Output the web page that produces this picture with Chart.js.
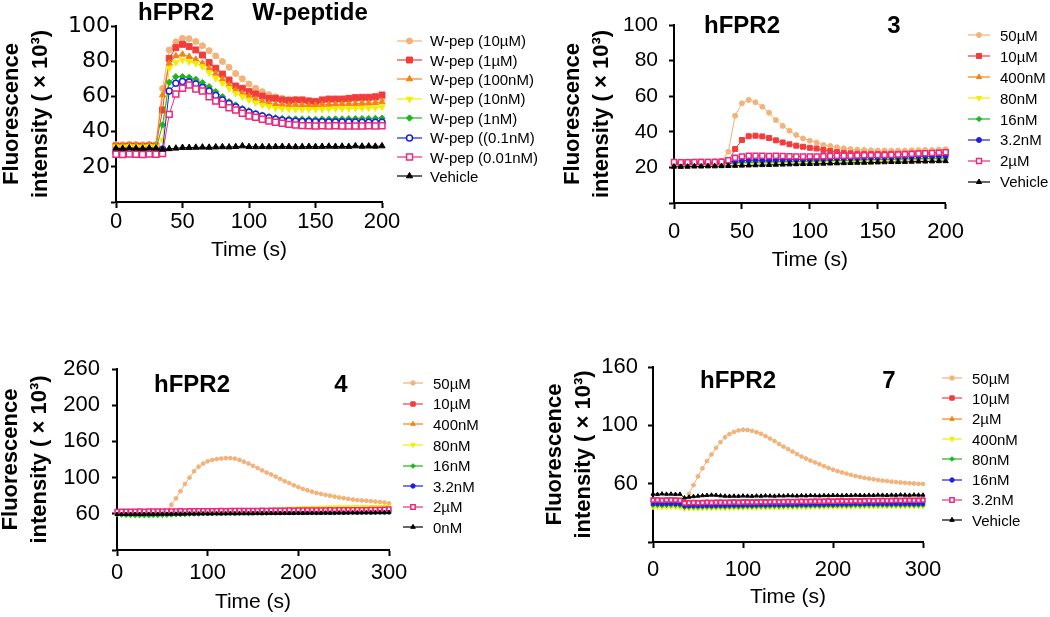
<!DOCTYPE html>
<html lang="en">
<head>
  <meta charset="UTF-8" />
  <title>hFPR2 calcium flux</title>
  <script src="https://cdn.jsdelivr.net/npm/chart.js"></script>
  <style>
    body {
      margin: 0;
      background: #fff;
      overflow: hidden;
      font-family: "Liberation Sans", Arial, sans-serif;
      color: #000;
    }
    #fig {
      position: relative;
      width: 1050px;
      height: 617px;
    }
    #fig canvas.panel {
      position: absolute;
    }
    .ttl {
      position: absolute;
      transform: translate(-50%, -50%);
      font-size: 24px;
      font-weight: bold;
      line-height: 1;
      white-space: nowrap;
    }
    .legend {
      position: absolute;
      font-size: 15px;
      white-space: nowrap;
    }
    .legend .row {
      display: flex;
      align-items: center;
    }
  </style>
</head>
<body>
<div id="fig">
  <canvas id="c1" class="panel" width="410" height="268" style="left:-2px;top:0px"></canvas>
  <canvas id="c2" class="panel" width="415" height="275" style="left:559px;top:0px"></canvas>
  <canvas id="c3" class="panel" width="415" height="275" style="left:-3px;top:340px"></canvas>
  <canvas id="c4" class="panel" width="415" height="275" style="left:541px;top:340px"></canvas>

  <div class="ttl" style="left:176px;top:12px">hFPR2</div>
  <div class="ttl" style="left:310px;top:12px">W-peptide</div>
  <div class="ttl" style="left:742px;top:25px">hFPR2</div>
  <div class="ttl" style="left:894px;top:25px">3</div>
  <div class="ttl" style="left:192px;top:384px">hFPR2</div>
  <div class="ttl" style="left:341px;top:384px">4</div>
  <div class="ttl" style="left:738px;top:380px">hFPR2</div>
  <div class="ttl" style="left:889px;top:380px">7</div>

  <div class="legend" id="lg1" style="left:397px;top:31px"></div>
  <div class="legend" id="lg2" style="left:968px;top:25px"></div>
  <div class="legend" id="lg3" style="left:403px;top:373px"></div>
  <div class="legend" id="lg4" style="left:942px;top:368px"></div>
</div>

<script>
// ---- data ----
// time points (s)
const timeA = [0,5,10,15,20,25,30,35,40,45,50,55,60,65,70,75,80,85,90,95,100,
  105,110,115,120,125,130,135,140,145,150,155,160,165,170,175,180,185,190,195,200];
const timeB = [0,5,10,15,20,25,30,35,40,45,50,55,60,65,70,75,80,85,90,95,100,
  105,110,115,120,125,130,135,140,145,150,155,160,165,170,175,180,185,190,195,200,
  205,210,215,220,225,230,235,240,245,250,255,260,265,270,275,280,285,290,295,300];

// panel 1: W-peptide
const labelsW = ['W-pep (10µM)','W-pep (1µM)','W-pep (100nM)','W-pep (10nM)',
  'W-pep (1nM)','W-pep ((0.1nM)','W-pep (0.01nM)','Vehicle'];
const wpep10uM = [32.6,32.5,32.7,32.6,32.5,32.7,32.6,
  64.5,86.4,91,93,92.8,91.2,88.8,86,83,79.8,76.5,73,70,67,64.7,62.7,61,59.8,59,58.4,
  58.1,57.8,57.5,57.3,57.4,57.6,57.8,57.9,58,58.2,58.4,58.5,58.7,59];
const wpep1uM = [31.8,31.7,31.9,31.8,31.7,31.9,31.8,
  52.3,81.6,87.7,89.6,88.3,86.4,83.5,79.2,76,72.7,69.3,65.9,64.6,62.7,61.4,60.2,58.9,58.9,58,57.6,
  58,58,57.4,57,58,58.5,58.5,58.5,58.9,59.3,59.5,59.5,59.8,60.8];
const wpep100nM = [32.2,32.1,32.3,32.2,32.1,32.3,32.2,
  60.8,78.8,83,83.9,82.6,81,78.8,76,73.1,69.7,66.5,63.6,61.7,60.2,58.3,57,56.1,55.5,55.2,55,
  55.1,55,54.9,55,55.2,55.3,55.5,55.6,55.7,55.8,56,56.1,56.3,56.8];
const wpep10nM = [31.4,31.3,31.5,31.4,31.3,31.5,31.4,
  35.2,76,79.2,80.7,79.7,78.8,76.9,73.5,70.3,67.4,64.6,61.7,59.8,58,56.4,55.1,54.2,53.2,53,52.8,
  52.7,52.6,52.7,52.6,52.8,52.9,53,53,53.1,53.2,53.3,53.4,53.5,54];
const wpep1nM = [29.8,29.7,29.9,29.8,29.7,29.9,29.8,
  43.8,68,71.2,71.2,70.8,69.7,67.8,65.5,62.7,59.8,57,55.1,53.2,51.9,50.4,49.4,48.5,47.9,47.5,47.3,
  47.2,47.1,47.1,47,47.1,47.1,47.2,47.2,47.3,47.3,47.4,47.4,47.5,47.6];
const wpep01nM = [28.3,28.2,28.4,28.3,28.2,28.4,28.3,
  30,63,67.5,68.5,68.2,67,65,63,60.5,58,56,54,52.3,51,49.8,48.8,47.8,47,46.5,46.2,
  45.9,45.8,45.7,45.6,45.6,45.5,45.5,45.4,45.4,45.4,45.3,45.3,45.3,45.3];
const wpep001nM = [27.1,27,27.2,27.1,27,27.2,27.1,
  27.6,49.8,61.4,64.6,66.5,64.2,63.1,59.8,57.4,55.5,53.6,52.3,50.4,48.9,48.1,47,46,45.3,44.7,44.1,
  43.8,43.4,43.3,43.2,43.3,43.2,43.3,43.2,43.1,43.2,43.2,43.3,43.2,43.3];
const vehicleW = [30.5,30.4,30.6,30.5,30.4,30.6,30.5,
  29.9,30.2,30.5,30.9,30.9,31,31.1,31,31.2,31.3,31.2,31.4,31.8,31.4,31.3,31.4,31.3,31.4,31.5,31.4,
  31.3,31.4,31.5,31.4,31.5,31.6,31.5,31.6,31.5,31.8,31.6,31.7,31.6,31.8];

// panel 2: compound 3
const labels3 = ['50µM','10µM','400nM','80nM','16nM','3.2nM','2µM','Vehicle'];
const c3_50uM = [23.2,23,23.2,23.3,23.2,23.4,23.3,23.5,
  28.8,49,56,57.9,56.6,54.1,50.7,46.6,43.3,40.6,38.2,36.3,35,33.9,32.6,32,31.3,30.7,30.3,30,
  29.8,29.6,29.5,29.5,29.4,29.5,29.5,29.6,29.7,29.8,29.8,30,30.2];
const c3_10uM = [23,23,23.1,23,23.2,23.1,23.2,23.3,23.5,
  30.3,35.4,37.5,37.8,37.4,36.5,35.2,34,33,32.2,31.6,31,30.6,29.8,29.2,28.6,28.2,27.9,27.7,27.6,
  27.5,27.5,27.5,27.6,27.6,27.7,27.8,27.9,28,28.1,28.2,28.3];
const c3_400nM = [21.6,21.5,21.6,21.6,21.7,21.7,21.8,21.8,
  22.1,22.4,22.6,22.8,22.8,22.9,23,23,23.1,23.2,23.3,23.3,23.4,23.5,23.6,23.7,23.8,23.8,23.9,24,
  24.1,24.2,24.2,24.3,24.4,24.5,24.6,24.6,24.7,24.8,24.9,25,25.1];
const c3_80nM = [21.3,21.2,21.3,21.3,21.4,21.4,21.5,21.5,
  21.8,22,22.1,22.2,22.3,22.3,22.4,22.5,22.6,22.7,22.8,22.9,23,23.1,23.2,23.3,23.4,23.5,23.6,23.7,
  23.8,23.9,24,24.1,24.2,24.3,24.4,24.5,24.6,24.7,24.8,24.9,25];
const c3_16nM = [21.8,21.7,21.8,21.8,21.9,21.9,22,22,
  22.3,22.6,22.8,23,23,23.1,23.2,23.2,23.3,23.4,23.5,23.5,23.6,23.7,23.8,23.9,24,24,24.1,24.2,
  24.3,24.4,24.4,24.5,24.6,24.7,24.8,24.8,24.9,25,25.1,25.2,25.3];
const c3_3_2nM = [22.2,22,22.1,22.1,22.2,22.2,22.3,22.4,
  23,23.4,23.8,24,24.1,24,24.1,24.2,24.3,24.3,24.4,24.5,24.6,24.7,24.8,24.9,25,25.1,25.2,25.3,
  25.4,25.5,25.5,25.6,25.7,25.8,25.9,26,26.1,26.2,26.3,26.4,26.5];
const c3_2uM = [23,22.9,22.9,23,23,23.1,23,23.2,
  24,25.4,26.2,26.6,26.6,26.5,26.4,26.5,26.4,26.3,26.2,26.1,26.2,26.2,26.3,26.4,
  26.5,26.6,26.6,26.7,26.8,26.9,27,27,27.1,27.3,27.4,27.6,27.8,27.9,28.1,28.3,28.5];
const c3_vehicle = [20.4,20.3,20.4,20.5,20.5,20.6,20.6,20.7,
  20.8,20.9,21,21.1,21.2,21.3,21.4,21.5,21.6,21.7,21.8,21.9,21.9,22,22.1,22.2,22.3,22.4,22.5,22.6,
  22.6,22.7,22.8,22.9,23,23,23.1,23.2,23.3,23.3,23.4,23.5,23.5];

// panel 3: compound 4 (axis labels as printed on the figure)
const labels4 = ['50µM','10µM','400nM','80nM','16nM','3.2nM','2µM','0nM'];
const yTickValues4 = [20,60,100,140,180,220];
const yTickLabels4 = ['','60','100','160','200','260'];
const c4_50uM = [60.8,61,61.2,61,61.3,61.2,61.4,61.3,61.5,61.5,61.6,
  63,70,77,85,93,100,107,112,115.5,118,119.5,120.5,121,121.5,121.5,121,119.5,117.5,115.5,113,
  110.5,108,105.5,103.5,101,98.5,96,94,91.5,89.5,87.5,86,84.5,83,82,81,80,79,78,77.3,
  76.5,75.8,75.2,74.8,74.5,74,73.5,73,72.5,71.5];
const c4_10uM = [62.2,62.3,62.2,62.4,62.3,62.4,62.5,62.4,62.5,62.6,
  62.5,62.7,62.6,62.7,62.8,62.7,62.9,62.8,63,62.9,
  63,63.1,63,63.2,63.1,63.2,63.3,63.2,63.4,63.3,
  63.4,63.5,63.4,63.6,63.5,63.6,63.7,63.6,63.8,63.7,
  63.8,63.9,63.8,64,63.9,64,64.1,64,64.2,64.1,
  64.2,64.3,64.2,64.4,64.3,64.4,64.5,64.4,64.6,64.5,64.6];
const c4_400nM = [61.8,61.9,61.8,61.9,62,61.9,62,62.1,62,62.1,
  62.2,62.1,62.2,62.3,62.2,62.4,62.3,62.4,62.5,62.4,
  62.6,62.5,62.6,62.7,62.6,62.8,62.7,62.8,62.9,62.8,
  63,62.9,63,63.1,63,63.2,63.1,63.2,63.3,63.2,
  63.4,63.3,63.4,63.5,63.4,63.6,63.5,63.6,63.7,63.6,
  63.8,63.7,63.8,63.9,63.8,64,63.9,64,64.1,64,64.2];
const c4_80nM = [61,61.1,61,61.2,61.1,61.2,61.3,61.2,61.4,61.3,
  61.4,61.5,61.5,61.6,61.7,61.7,61.8,61.9,62,62.1,
  62.2,62.3,62.4,62.5,62.6,62.8,62.9,63.1,63.3,63.5,
  63.7,64,64.2,64.5,64.8,65,65.3,65.6,65.9,66.2,
  66.4,66.6,66.8,67,67.1,67.2,67.3,67.4,67.5,67.6,
  67.6,67.7,67.7,67.8,67.8,67.9,67.9,68,68,68.1,68.1];
const c4_16nM = [58.6,58.3,58.1,57.9,57.8,57.7,57.8,57.7,57.8,57.9,
  58,58.2,58.4,58.6,58.8,59,59.2,59.4,59.5,59.7,
  59.8,59.9,60,60.1,60.1,60.2,60.2,60.3,60.3,60.4,
  60.4,60.5,60.5,60.5,60.6,60.6,60.6,60.7,60.7,60.7,
  60.8,60.8,60.8,60.9,60.9,60.9,61,61,61,61,
  61.1,61.1,61.1,61.1,61.2,61.2,61.2,61.2,61.3,61.3,61.3];
const c4_3_2nM = [60.4,60.5,60.4,60.5,60.6,60.5,60.6,60.6,60.7,60.6,
  60.7,60.7,60.8,60.7,60.8,60.8,60.9,60.8,60.9,60.9,
  61,60.9,61,61,61.1,61,61.1,61.1,61.2,61.1,
  61.2,61.2,61.3,61.2,61.3,61.3,61.4,61.3,61.4,61.4,
  61.5,61.4,61.5,61.5,61.6,61.5,61.6,61.6,61.7,61.6,
  61.7,61.7,61.8,61.7,61.8,61.8,61.9,61.8,61.9,61.9,62];
const c4_2uM = [62.8,62.9,63,62.9,63,63.1,63,63.1,63.2,63.1,
  63.2,63.3,63.2,63.3,63.4,63.3,63.4,63.5,63.4,63.5,
  63.6,63.5,63.6,63.7,63.6,63.7,63.8,63.7,63.8,63.9,
  63.8,63.9,64,63.9,64,64.1,64,64.1,64.2,64.1,
  64.2,64.3,64.2,64.3,64.4,64.3,64.4,64.5,64.4,64.5,
  64.6,64.5,64.6,64.7,64.6,64.7,64.8,64.9,65,65.1,65.3];
const c4_0nM = [59.3,59.4,59.3,59.4,59.5,59.4,59.5,59.6,59.5,59.6,
  59.7,59.6,59.7,59.8,59.7,59.8,59.9,59.8,59.9,60,
  59.9,60,60.1,60,60.1,60.2,60.1,60.2,60.3,60.2,
  60.3,60.4,60.3,60.4,60.5,60.4,60.5,60.6,60.5,60.6,
  60.7,60.6,60.7,60.8,60.7,60.8,60.9,60.8,60.9,61,
  60.9,61,61.1,61,61.1,61.2,61.1,61.2,61.3,61.2,61.4];

// panel 4: compound 7 (axis labels as printed on the figure)
const labels7 = ['50µM','10µM','2µM','400nM','80nM','16nM','3.2nM','Vehicle'];
const yTickValues7 = [20,60,100,140];
const yTickLabels7 = ['','60','100','160'];
const c7_50uM = [48.6,48.5,48.7,48.6,48.5,48.7,48.6,
  49,53,59,65,70.5,75.5,80,84.5,88.5,91.8,94,95.5,96.5,97,96.8,96.2,95.3,94.2,92.6,90.9,
  89.2,87.2,85.4,83.7,82,80.3,78.6,77.2,75.8,74.6,73.3,72,70.8,69.6,68.6,67.7,66.9,66,65.2,64.6,
  64,63.5,63,62.5,62.1,61.8,61.4,61.1,60.8,60.5,60.3,60.1,59.9,59.8];
const c7_10uM = [49,49.1,48.9,49,49.1,49,48.9,47.2,
  47.3,47.4,47.3,47.4,47.5,47.4,47.5,47.6,47.5,47.6,
  47.7,47.6,47.7,47.8,47.7,47.8,47.9,47.8,47.9,48,
  47.9,48,48.1,48,48.1,48.2,48.1,48.2,48.3,48.2,
  48.3,48.4,48.3,48.4,48.5,48.4,48.5,48.6,48.5,48.6,
  48.7,48.6,48.7,48.8,48.7,48.8,48.9,48.8,48.9,48.9,
  48.8,48.9,48.9];
const c7_2uM = [48.1,48.2,48,48.1,48.2,48.1,48,46.4,
  46.5,46.6,46.5,46.6,46.7,46.6,46.7,46.8,46.7,46.8,
  46.9,46.8,46.9,47,46.9,47,47.1,47,47.1,47.2,
  47.1,47.2,47.3,47.2,47.3,47.4,47.3,47.4,47.5,47.4,
  47.5,47.6,47.5,47.6,47.7,47.6,47.7,47.8,47.7,47.8,
  47.9,47.8,47.9,48,47.9,48,48.1,48,48.1,48.1,
  48,48.1,48.1];
const c7_400nM = [43.6,43.7,43.5,43.6,43.7,43.6,43.5,42.6,
  42.7,42.8,42.7,42.8,42.9,42.8,42.9,43,42.9,43,
  43.1,43,43.1,43.2,43.1,43.2,43.3,43.2,43.3,43.4,
  43.3,43.4,43.5,43.4,43.5,43.6,43.5,43.6,43.7,43.6,
  43.7,43.8,43.7,43.8,43.9,43.8,43.9,44,43.9,44,
  44.1,44,44.1,44.2,44.1,44.2,44.2,44.1,44.2,44.2,
  44.1,44.2,44.2];
const c7_80nM = [45,45.1,44.9,45,45.1,45,44.9,43.6,
  43.7,43.8,43.7,43.8,43.9,43.8,43.9,44,43.9,44,
  44.1,44,44.1,44.2,44.1,44.2,44.3,44.2,44.3,44.4,
  44.3,44.4,44.5,44.4,44.5,44.6,44.5,44.6,44.7,44.6,
  44.7,44.8,44.7,44.8,44.9,44.8,44.9,45,44.9,45,
  45.1,45,45.1,45.1,45,45.1,45.1,45,45.1,45.1,
  45,45.1,45.1];
const c7_16nM = [46.1,46.2,46,46.1,46.2,46.1,46,44.7,
  44.8,44.9,44.8,44.9,45,44.9,45,45.1,45,45.1,
  45.2,45.1,45.2,45.3,45.2,45.3,45.4,45.3,45.4,45.5,
  45.4,45.5,45.6,45.5,45.6,45.7,45.6,45.7,45.8,45.7,
  45.8,45.9,45.8,45.9,46,45.9,46,46.1,46,46.1,
  46.2,46.1,46.2,46.2,46.1,46.2,46.2,46.1,46.2,46.2,
  46.1,46.2,46.2];
const c7_3_2nM = [48.7,48.8,48.6,48.7,48.8,48.7,48.6,46.7,
  46.9,47,46.9,47,47.1,47,47.1,47.2,47.1,47.2,
  47.3,47.2,47.3,47.4,47.3,47.4,47.5,47.4,47.5,47.6,
  47.5,47.6,47.7,47.6,47.7,47.8,47.7,47.8,47.9,47.8,
  47.9,48,47.9,48,48.1,48,48.1,48.2,48.1,48.2,
  48.3,48.2,48.3,48.4,48.3,48.4,48.5,48.4,48.5,48.6,
  48.5,48.6,48.7];
const c7_vehicle = [52.9,52.7,53,52.8,52.9,52.7,52.8,50.3,
  50.8,51.2,51.5,51.8,52,52.2,52.1,51.7,51.5,51.4,
  51.5,51.4,51.6,51.5,51.4,51.6,51.5,51.7,51.6,51.5,
  51.7,51.6,51.8,51.7,51.6,51.8,51.7,51.9,51.8,51.7,
  51.9,51.8,52,51.9,51.8,52,51.9,52.1,52,51.9,
  52.1,52,52.2,52.1,52,52.2,52.1,52.3,52.2,52.1,
  52.3,52.2,52.2];

// ---- styles ----
const colors = ['#F2B27A','#F23C3C','#F5840F','#F2EE00','#18B818','#1E1EE6','#EC2A7C','#000000'];
const pointStyles = ['circle','rect','triangle','triangle','rectRot','circle','rect','triangle'];
const pointRotations = [0,0,0,180,0,0,0,0];
const styleScale = {circle: 1, rect: 1.4, triangle: 1.2, rectRot: 1.05};

Chart.defaults.font.family = '"Liberation Sans", Arial, sans-serif';
Chart.defaults.color = '#000';

function markerRadius(i, r) {
  return r * styleScale[pointStyles[i]];
}

function drawIcon(ctx, w, h, i, open, r) {
  ctx.strokeStyle = colors[i];
  ctx.lineWidth = 1.2;
  ctx.beginPath();
  ctx.moveTo(0, h / 2);
  ctx.lineTo(w, h / 2);
  ctx.stroke();
  ctx.fillStyle = open[i] ? '#fff' : colors[i];
  ctx.lineWidth = open[i] ? 1.5 : 1;
  const opts = { pointStyle: pointStyles[i], rotation: pointRotations[i], radius: markerRadius(i, r), borderWidth: 1 };
  if (Chart.helpers && Chart.helpers.drawPoint) {
    Chart.helpers.drawPoint(ctx, opts, w / 2, h / 2);
  } else {
    ctx.beginPath();
    ctx.arc(w / 2, h / 2, r, 0, Math.PI * 2);
    ctx.fill();
    ctx.stroke();
  }
}

function addLegend(id, labels, open, o) {
  const box = document.getElementById(id);
  labels.forEach((text, i) => {
    const row = document.createElement('div');
    row.className = 'row';
    row.style.height = o.rowH + 'px';
    const cv = document.createElement('canvas');
    cv.width = o.lineW;
    cv.height = 14;
    cv.style.marginRight = o.gap + 'px';
    drawIcon(cv.getContext('2d'), o.lineW, 14, i, open, o.r);
    const span = document.createElement('span');
    span.textContent = text;
    row.append(cv, span);
    box.appendChild(row);
  });
}

function makePanel(p) {
  const datasets = p.series.map((vals, i) => ({
    label: p.labels[i],
    data: vals.map((v, k) => ({ x: p.time[k], y: v })),
    borderColor: colors[i],
    borderWidth: 1,
    pointStyle: pointStyles[i],
    pointRotation: pointRotations[i],
    pointRadius: markerRadius(i, p.r),
    pointBackgroundColor: p.open[i] ? '#fff' : colors[i],
    pointBorderColor: colors[i],
    pointBorderWidth: p.open[i] ? 1.5 : 1,
    tension: 0,
    fill: false,
    clip: false,
    order: p.series.length - i
  }));

  return new Chart(document.getElementById(p.id), {
    type: 'line',
    data: { datasets },
    options: {
      responsive: false,
      animation: false,
      events: [],
      layout: { padding: { top: p.padTop, right: p.padRight, left: 0, bottom: 0 } },
      plugins: { legend: { display: false }, tooltip: { enabled: false } },
      scales: {
        x: {
          type: 'linear',
          min: p.xMin, max: p.xMax,
          afterFit: s => { s.height = p.xH; },
          ticks: { stepSize: p.xStep, padding: p.xPad, font: { size: 22 }, color: '#000', maxRotation: 0, autoSkip: false },
          grid: { drawOnChartArea: false, tickLength: 6, tickWidth: 2, tickColor: '#000' },
          border: { color: '#000', width: 2 },
          title: { display: true, text: 'Time (s)', font: { size: 21 }, color: '#000', padding: { top: 0, bottom: p.xTitlePad } }
        },
        y: {
          type: 'linear',
          min: p.yMin, max: p.yMax,
          afterFit: s => { s.width = p.yW; },
          ticks: {
            stepSize: p.yStep, padding: p.yPad, font: p.yFont, color: '#000', autoSkip: false,
            callback: v => {
              const k = p.yTickValues.indexOf(v);
              return k >= 0 ? p.yTickLabels[k] : '';
            }
          },
          grid: { drawOnChartArea: false, tickLength: 5, tickWidth: 2, tickColor: '#000' },
          border: { color: '#000', width: 2 },
          title: {
            display: true,
            text: ['Fluorescence', 'intensity ( × 10³)'],
            font: { size: 22, weight: 'bold', lineHeight: 1.3 },
            color: '#000',
            padding: { top: 0, bottom: 0 }
          }
        }
      }
    }
  });
}

const openW = [false,false,false,false,false,true,true,false];
const openC = [false,false,false,false,false,false,true,false];

makePanel({
  id: 'c1', time: timeA, labels: labelsW, open: openW, r: 3,
  series: [wpep10uM, wpep1uM, wpep100nM, wpep10nM, wpep1nM, wpep01nM, wpep001nM, vehicleW],
  padTop: 26, padRight: 26, xH: 66, yW: 118,
  xMin: 0, xMax: 200, xStep: 50, xPad: 1, xTitlePad: 5,
  yMin: 0, yMax: 100, yStep: 20, yPad: 1,
  yFont: { size: 22, family: '"DejaVu Sans", sans-serif' },
  yTickValues: [0,20,40,60,80,100], yTickLabels: ['','20','40','60','80','100']
});

makePanel({
  id: 'c2', time: timeA, labels: labels3, open: openC, r: 2.5,
  series: [c3_50uM, c3_10uM, c3_400nM, c3_80nM, c3_16nM, c3_3_2nM, c3_2uM, c3_vehicle],
  padTop: 25, padRight: 24, xH: 72, yW: 115,
  xMin: 0, xMax: 200, xStep: 50, xPad: 10, xTitlePad: 2,
  yMin: 0, yMax: 100, yStep: 20, yPad: 11,
  yFont: { size: 21 },
  yTickValues: [0,20,40,60,80,100], yTickLabels: ['','20','40','60','80','100']
});

makePanel({
  id: 'c3', time: timeB, labels: labels4, open: openC, r: 1.9,
  series: [c4_50uM, c4_10uM, c4_400nM, c4_80nM, c4_16nM, c4_3_2nM, c4_2uM, c4_0nM],
  padTop: 29, padRight: 23, xH: 65, yW: 120,
  xMin: 0, xMax: 300, xStep: 100, xPad: 4, xTitlePad: 0,
  yMin: 20, yMax: 220, yStep: 40, yPad: 12,
  yFont: { size: 22 },
  yTickValues: yTickValues4, yTickLabels: yTickLabels4
});

makePanel({
  id: 'c4', time: timeB, labels: labels7, open: openC, r: 1.9,
  series: [c7_50uM, c7_10uM, c7_2uM, c7_400nM, c7_80nM, c7_16nM, c7_3_2nM, c7_vehicle],
  padTop: 27, padRight: 33, xH: 73, yW: 112,
  xMin: 0, xMax: 300, xStep: 100, xPad: 9, xTitlePad: 5,
  yMin: 20, yMax: 140, yStep: 40, yPad: 10,
  yFont: { size: 22 },
  yTickValues: yTickValues7, yTickLabels: yTickLabels7
});

addLegend('lg1', labelsW, openW, { rowH: 19.4, lineW: 25, gap: 8, r: 3 });
addLegend('lg2', labels3, openC, { rowH: 20.9, lineW: 22, gap: 10, r: 2.5 });
addLegend('lg3', labels4, openC, { rowH: 20.6, lineW: 20, gap: 10, r: 2.2 });
addLegend('lg4', labels7, openC, { rowH: 20.3, lineW: 20, gap: 10, r: 2.2 });
</script>
</body>
</html>
